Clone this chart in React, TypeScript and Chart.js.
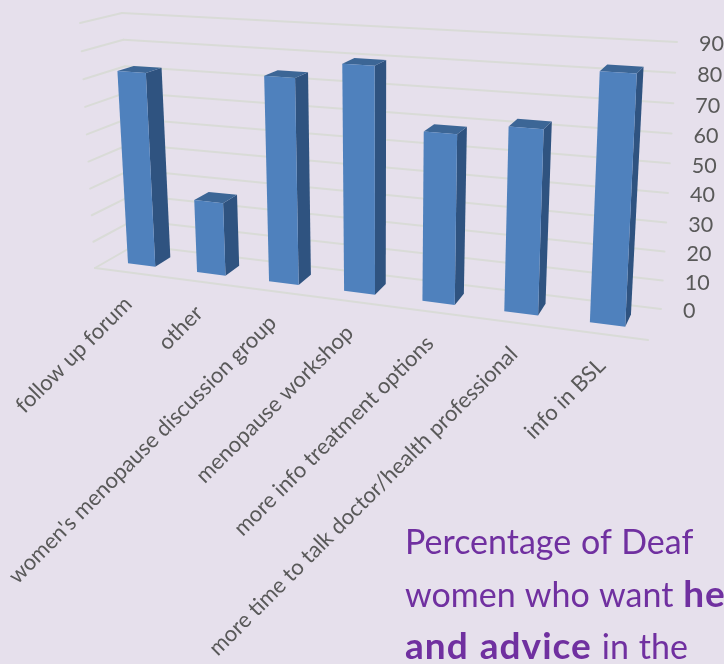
import React, { useEffect, useRef } from "react";
import { Chart, registerables } from "chart.js";

Chart.register(...registerables);

const categories = [
  "follow up forum",
  "other",
  "women's menopause discussion group",
  "menopause workshop",
  "more info treatment options",
  "more time to talk doctor/health professional",
  "info in BSL",
];
const percentages = [72, 27, 74, 80, 59, 63, 83];
const axisMax = 90;
const axisStep = 10;

type Pt = [number, number];
// Box corners in picture space: back/front, left/right, floor/top of the axis
const BL0: Pt = [135, 245], BR0: Pt = [661, 309], BLT: Pt = [122, 13], BRT: Pt = [677, 42];
const FL0: Pt = [95, 268], FR0: Pt = [648, 340], FLT: Pt = [80, 23], FRT: Pt = [661, 58];
const FORESHORTEN = 0.14;
const RISE = 0.04;
const BAR_BACK = 0.28, BAR_FRONT = 0.68;

const lerp = (a: Pt, b: Pt, t: number): Pt => [a[0] + (b[0] - a[0]) * t, a[1] + (b[1] - a[1]) * t];
// u: along categories, d: 0 back → 1 front, h: 0 floor → 1 top
function project(u: number, d: number, h: number): Pt {
  const w = (u * (1 - FORESHORTEN)) / (1 - FORESHORTEN * u);
  const v = (h * (1 - RISE)) / (1 - RISE * h);
  const back = lerp(lerp(BL0, BR0, w), lerp(BLT, BRT, w), v);
  const front = lerp(lerp(FL0, FR0, w), lerp(FLT, FRT, w), v);
  return lerp(back, front, d);
}

const FONT = "Lato";
const TEXT = "#595959";

const box3d = {
  id: "box3d",
  beforeDatasetsDraw(chart: any) {
    const { ctx, chartArea: area, scales } = chart;
    const yS = scales.y, xS = scales.x;
    const H = (px: number) => (yS.bottom - px) / (yS.bottom - yS.top);
    const U = (px: number) => (px - area.left) / (area.right - area.left);
    const poly = (pts: Pt[], fill: string) => {
      ctx.beginPath();
      pts.forEach((p, i) => (i ? ctx.lineTo(p[0], p[1]) : ctx.moveTo(p[0], p[1])));
      ctx.closePath();
      ctx.fillStyle = fill;
      ctx.fill();
    };
    const line = (a: Pt, b: Pt) => {
      ctx.beginPath();
      ctx.moveTo(a[0], a[1]);
      ctx.lineTo(b[0], b[1]);
      ctx.stroke();
    };
    ctx.save();
    ctx.strokeStyle = "#d9dbd7";
    ctx.lineWidth = 2;
    ctx.lineCap = "round";
    yS.ticks.forEach((t: any) => {
      const h = H(yS.getPixelForValue(t.value));
      line(project(0, 1, h), project(0, 0, h));
      line(project(0, 0, h), project(1, 0, h));
    });
    line(project(0, 1, 0), project(1, 1, 0));

    chart.getDatasetMeta(0).data.forEach((el: any) => {
      const u0 = U(el.x - el.width / 2), u1 = U(el.x + el.width / 2);
      const h = H(el.y);
      const fbl = project(u0, BAR_FRONT, 0), fbr = project(u1, BAR_FRONT, 0);
      const ftl = project(u0, BAR_FRONT, h), ftr = project(u1, BAR_FRONT, h);
      const bbr = project(u1, BAR_BACK, 0), btr = project(u1, BAR_BACK, h), btl = project(u0, BAR_BACK, h);
      poly([fbr, bbr, btr, ftr], "#2f5380");
      poly([ftl, ftr, btr, btl], "#3c6696");
      poly([fbl, fbr, ftr, ftl], "#4f81bd");
    });

    ctx.fillStyle = TEXT;
    ctx.font = `21.5px ${FONT}`;
    ctx.textAlign = "left";
    ctx.textBaseline = "middle";
    yS.ticks.forEach((t: any) => {
      const p = project(1, 0, H(yS.getPixelForValue(t.value)));
      ctx.fillText(String(t.value), p[0] + 22, p[1] + 2.5);
    });

    ctx.font = `22px ${FONT}`;
    ctx.textAlign = "right";
    ctx.textBaseline = "middle";
    xS.getLabels().forEach((label: string, i: number) => {
      const p = project(U(xS.getPixelForValue(i)), 1, 0);
      ctx.save();
      ctx.translate(p[0] - 1, p[1] + 28);
      ctx.rotate(-Math.PI / 4);
      ctx.fillText(label, 0, 0);
      ctx.restore();
    });
    ctx.restore();
    return false;
  },
};

const boldStyle = { fontSize: 37, letterSpacing: 1, fontWeight: 700 } as const;

export default function App() {
  const ref = useRef<HTMLCanvasElement>(null);
  useEffect(() => {
    const chart = new Chart(ref.current!, {
      type: "bar",
      data: {
        labels: categories,
        datasets: [
          {
            data: percentages,
            backgroundColor: "#4f81bd",
            barPercentage: 0.4,
            categoryPercentage: 1,
          },
        ],
      },
      options: {
        animation: false,
        responsive: false,
        devicePixelRatio: 1,
        layout: { padding: 0 },
        plugins: { legend: { display: false }, tooltip: { enabled: false }, title: { display: false } },
        scales: {
          x: { type: "category", display: false },
          y: { type: "linear", display: false, min: 0, max: axisMax, ticks: { stepSize: axisStep } },
        },
      },
      plugins: [box3d],
    } as any);
    return () => chart.destroy();
  }, []);
  return (
    <div style={{ position: "fixed", left: 0, top: 0, width: 724, height: 664, overflow: "hidden", background: "#e6e0ec" }}>
      <canvas ref={ref} width={724} height={664} style={{ display: "block", position: "absolute", left: 0, top: 0 }} />
      <div
        style={{
          position: "absolute",
          left: 405,
          top: 515,
          width: 400,
          color: "#7030a0",
          fontFamily: FONT,
          fontSize: 34,
          lineHeight: "51.5px",
          wordSpacing: 1.2,
          whiteSpace: "nowrap",
        }}
      >
        <div>Percentage of Deaf</div>
        <div>
          women who want <span style={boldStyle}>help</span>
        </div>
        <div>
          <span style={boldStyle}>and advice</span> in the
        </div>
      </div>
    </div>
  );
}
